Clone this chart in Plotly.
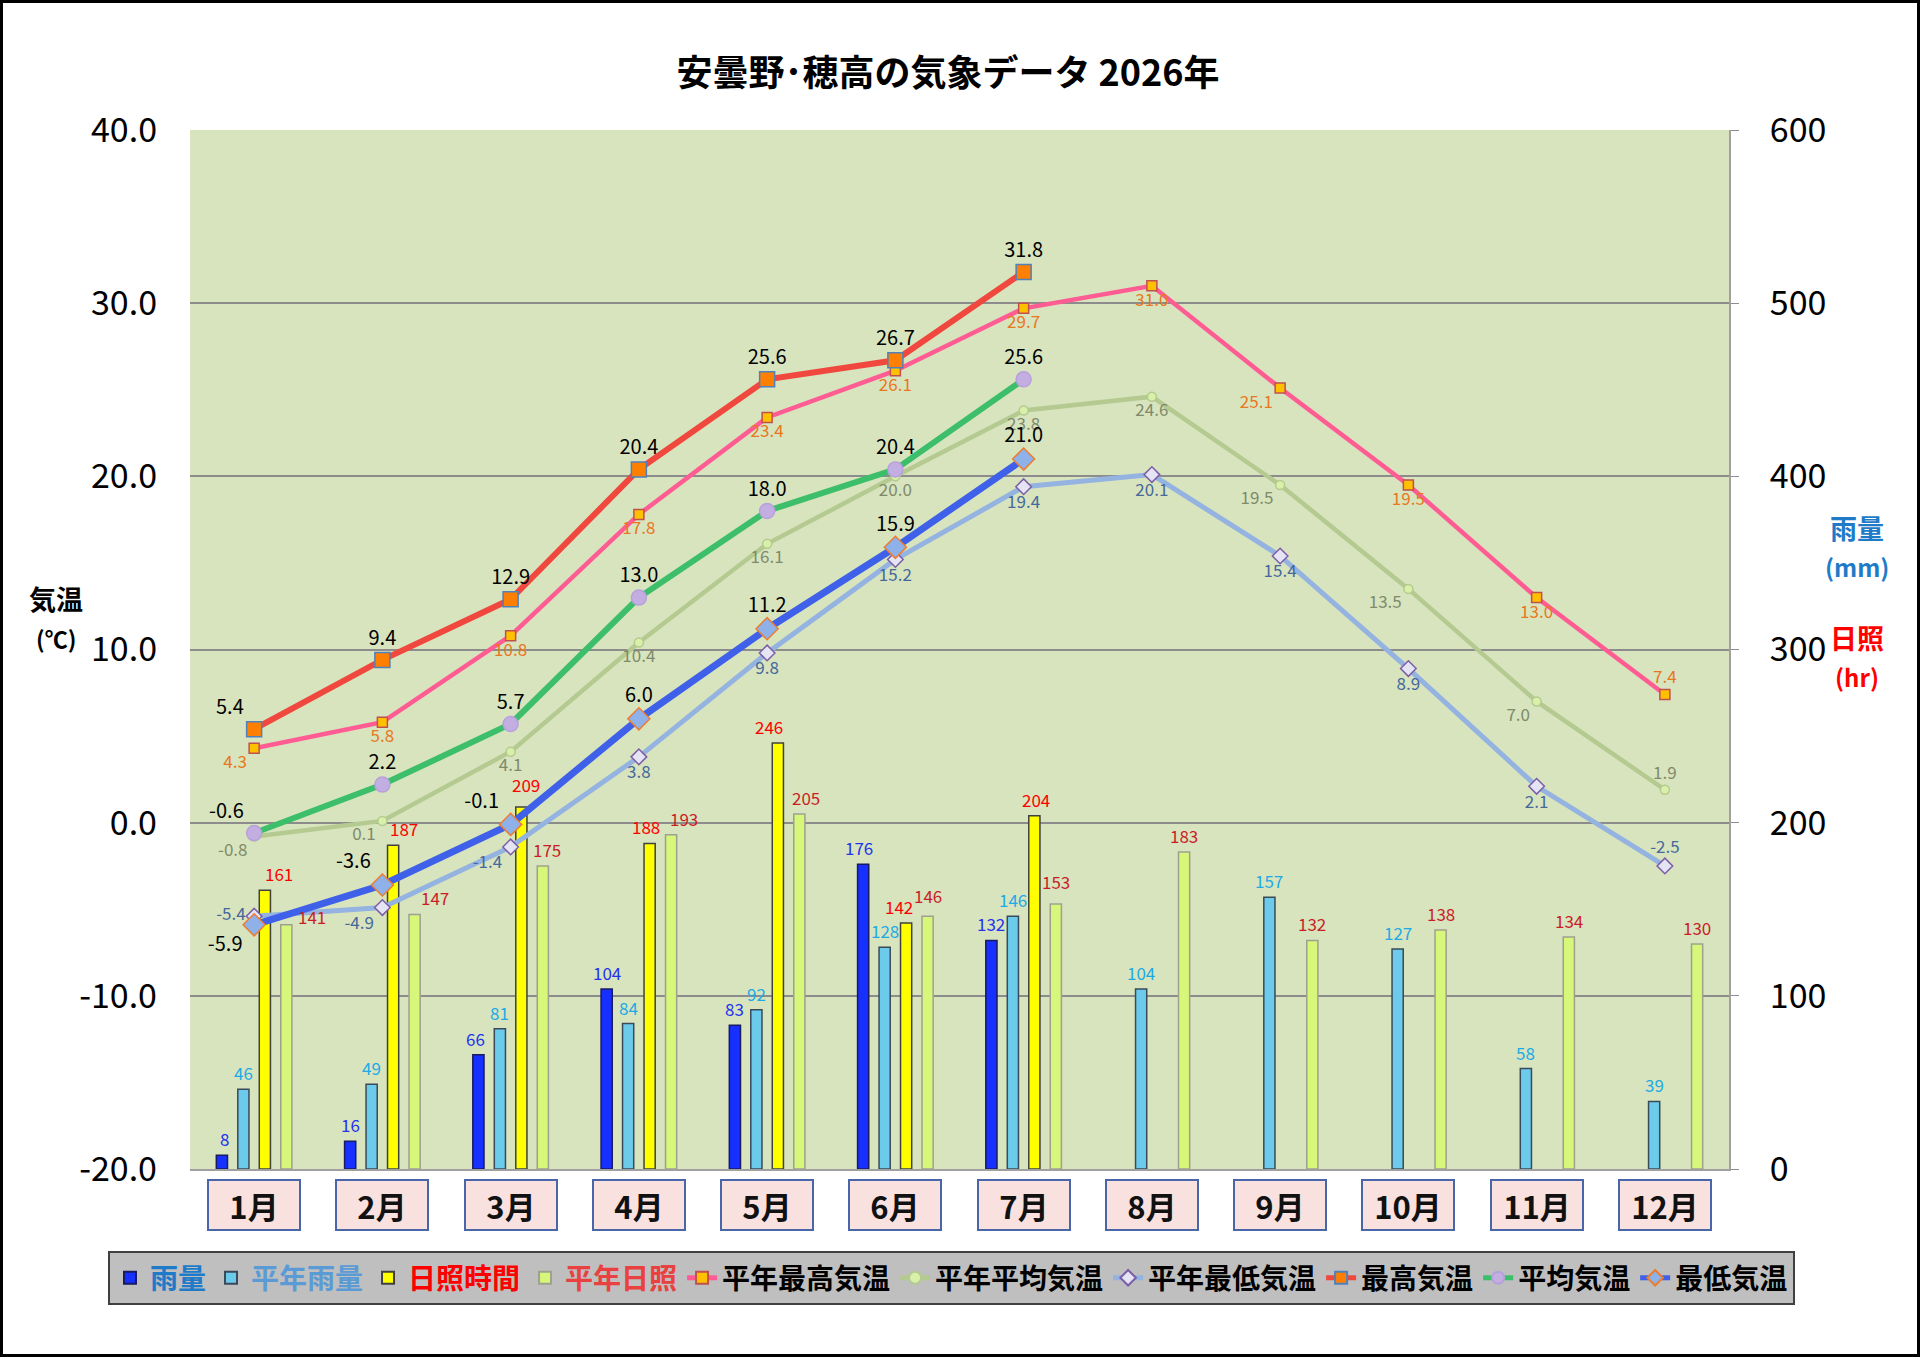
import plotly.graph_objects as go

MONTHS = [f"{m}月" for m in range(1, 13)]

RAIN = [8, 16, 66, 104, 83, 176, 132, None, None, None, None, None]
RAIN_NORMAL = [46, 49, 81, 84, 92, 128, 146, 104, 157, 127, 58, 39]
SUN = [161, 187, 209, 188, 246, 142, 204, None, None, None, None, None]
SUN_NORMAL = [141, 147, 175, 193, 205, 146, 153, 183, 132, 138, 134, 130]

TMAX_NORMAL = [4.3, 5.8, 10.8, 17.8, 23.4, 26.1, 29.7, 31.0, 25.1, 19.5, 13.0, 7.4]
TMEAN_NORMAL = [-0.8, 0.1, 4.1, 10.4, 16.1, 20.0, 23.8, 24.6, 19.5, 13.5, 7.0, 1.9]
TMIN_NORMAL = [-5.4, -4.9, -1.4, 3.8, 9.8, 15.2, 19.4, 20.1, 15.4, 8.9, 2.1, -2.5]
TMAX = [5.4, 9.4, 12.9, 20.4, 25.6, 26.7, 31.8]
TMEAN = [-0.6, 2.2, 5.7, 13.0, 18.0, 20.4, 25.6]
TMIN = [-5.9, -3.6, -0.1, 6.0, 11.2, 15.9, 21.0]

TEMP_TICKS = [-20, -10, 0, 10, 20, 30, 40]
TEMP_TICK_TEXT = ["-20.0", "-10.0", "0.0", "10.0", "20.0", "30.0", "40.0"]

FONT = "Noto Sans CJK JP"

W, H = 1920, 1357
ML, MR, MT, MB = 190, 191, 130, 188
PW, PH = W - ML - MR, H - MT - MB
BARGAP, GROUPGAP = 0.33, 0.48

# label placement per point (styling only)
POS_TMAX = ["top left"] + ["top center"] * 6
POS_TMEAN = ["top left"] + ["top center"] * 6
POS_TMIN = ["bottom left", "top left", "top left"] + ["top center"] * 4
POS_TMAX_N = ["bottom left"] + ["bottom center"] * 7 + ["bottom left"] + ["bottom center"] * 2 + ["top center"]
POS_TMEAN_N = ["bottom left", "bottom left"] + ["bottom center"] * 6 + ["bottom left"] * 3 + ["top center"]
POS_TMIN_N = ["middle left", "bottom left", "bottom left"] + ["bottom center"] * 8 + ["top center"]

# pixel nudges for bar value labels (styling only)
NUDGE_X = {
    "rain": [3, 0, -3, 0, 0, -4, 0, 0, 0, 0, 0, 0],
    "rain_n": [0] * 12,
    "sun": [14, 11, 5, -4, -9, -7, 2, 0, 0, 0, 0, 0],
    "sun_n": [26, 20, 4, 13, 7, 0, 0, 0, 0, 0, 0, 0],
}
NUDGE_Y = {
    "rain": [0] * 12,
    "rain_n": [0] * 12,
    "sun": [0, 0, 6, 0, 0, 0, 0, 0, 0, 0, 0, 0],
    "sun_n": [-8, 0, 0, 0, 0, 4, 6, 0, 0, 0, 0, 0],
}


def label(vals, fmt="{:.0f}"):
    return ["" if v is None else fmt.format(v) for v in vals]


def legend_name(text, color="#000000"):
    return f"<b><span style='color:{color}'>{text}</span></b>"


fig = go.Figure()
annotations = []

cat_w = PW / len(MONTHS)
slot = cat_w * (1 - BARGAP) / 4

bar_specs = [
    ("rain", "雨量", RAIN, "#1530FF", "#1A1A60", "#2233EE", "#1F7BC8"),
    ("rain_n", "平年雨量", RAIN_NORMAL, "#6CCBEB", "#3A4A5A", "#1EAAE6", "#5B9BD5"),
    ("sun", "日照時間", SUN, "#FFFF00", "#404040", "#FF0000", "#FF0000"),
    ("sun_n", "平年日照", SUN_NORMAL, "#D6F77A", "#A0A090", "#C81E28", "#E8413F"),
]
for i, (key, name, vals, fill, edge, tcolor, lcolor) in enumerate(bar_specs):
    fig.add_trace(go.Bar(
        x=MONTHS, y=vals, name=legend_name(name, lcolor),
        marker=dict(color=fill, line=dict(color=edge, width=1.5)),
        yaxis="y",
    ))
    offset = (i - 1.5) * slot
    for j, (m, v) in enumerate(zip(MONTHS, vals)):
        if v is None:
            continue
        annotations.append(dict(
            x=m, y=v, xref="x", yref="y", text=str(v), showarrow=False,
            xanchor="center", yanchor="bottom",
            xshift=offset + NUDGE_X[key][j], yshift=2 + NUDGE_Y[key][j],
            font=dict(family=FONT, size=17, color=tcolor),
        ))

line_specs = [
    ("平年最高気温", TMAX_NORMAL, "#FF5C93", 4.5, "square", 10, "#FFC000", "#C0504D", "#E87722", 17, POS_TMAX_N),
    ("平年平均気温", TMEAN_NORMAL, "#B4CA90", 4.5, "circle", 9, "#D8F0A8", "#B4CA90", "#7F8A6C", 17, POS_TMEAN_N),
    ("平年最低気温", TMIN_NORMAL, "#94B3E0", 5, "diamond", 12, "#E4E4F4", "#7B5EA7", "#46689C", 17, POS_TMIN_N),
    ("最高気温", TMAX, "#F0483E", 6, "square", 15, "#FF7F00", "#4F81BD", "#000000", 20, POS_TMAX),
    ("平均気温", TMEAN, "#3DBE6B", 6, "circle", 15, "#C3AEE2", "#B8A0DC", "#000000", 20, POS_TMEAN),
    ("最低気温", TMIN, "#3F60E8", 7, "diamond", 17, "#8DB1E8", "#ED7D31", "#000000", 20, POS_TMIN),
]
for name, vals, lc, lw, sym, size, mfill, medge, tcolor, tsize, pos in line_specs:
    fig.add_trace(go.Scatter(
        x=MONTHS[:len(vals)], y=vals, name=legend_name(name),
        mode="lines+markers+text",
        line=dict(color=lc, width=lw),
        marker=dict(symbol=sym, size=size, color=mfill, line=dict(color=medge, width=1.5)),
        text=label(vals, "{:.1f}"), textposition=pos,
        textfont=dict(family=FONT, size=tsize, color=tcolor),
        cliponaxis=False, yaxis="y2",
    ))

for m in MONTHS:
    annotations.append(dict(
        x=m, xref="x", y=-0.0346, yref="paper", yanchor="middle", xanchor="center",
        text=f"<b>{m}</b>", showarrow=False, font=dict(family=FONT, size=31, color="#111111"),
        bgcolor="#F9E1DF", bordercolor="#4A66A8", borderwidth=2,
        width=88, height=46,
    ))


def side_title(text, px, py, size, color):
    return dict(x=(px - ML) / PW, y=(H - MB - py) / PH, xref="paper", yref="paper",
                xanchor="center", yanchor="middle", text=f"<b>{text}</b>", showarrow=False,
                font=dict(family=FONT, size=size, color=color))


annotations += [
    side_title("気温", 56, 598, 27, "#000000"),
    side_title("(℃)", 56, 638, 23, "#000000"),
    side_title("雨量", 1857, 527, 27, "#1F7BC8"),
    side_title("(mm)", 1857, 566, 24, "#1F7BC8"),
    side_title("日照", 1857, 637, 27, "#FF0000"),
    side_title("(hr)", 1857, 676, 24, "#FF0000"),
]

fig.update_layout(
    width=W, height=H,
    margin=dict(l=ML, r=MR, t=MT, b=MB),
    paper_bgcolor="white",
    plot_bgcolor="#D8E4BD",
    font=dict(family=FONT, color="#000000"),
    title=dict(text="<b>安曇野･穂高の気象データ 2026年</b>", x=948 / W, xanchor="center",
               xref="container", y=1 - 73 / H, yanchor="middle", yref="container",
               font=dict(family=FONT, size=36, color="#000000")),
    barmode="group", bargap=BARGAP, bargroupgap=GROUPGAP,
    xaxis=dict(type="category", categoryorder="array", categoryarray=MONTHS,
               range=[-0.5, len(MONTHS) - 0.5],
               showticklabels=False, showgrid=False, zeroline=False,
               showline=True, linecolor="#A0A0A0", linewidth=2, ticks=""),
    yaxis=dict(range=[0, 600], dtick=100, side="right", tickformat="d",
               showgrid=True, gridcolor="#8C8C8C", gridwidth=1.5, zeroline=False,
               showline=True, linecolor="#A0A0A0", linewidth=2, mirror=False,
               ticks="outside", ticklen=8, tickcolor="#8C8C8C",
               tickfont=dict(family=FONT, size=34, color="#000000"), ticklabelstandoff=24),
    yaxis2=dict(range=[-20, 40], tickmode="array", tickvals=TEMP_TICKS, ticktext=TEMP_TICK_TEXT,
                side="left", overlaying="y",
                showgrid=False, zeroline=False, showline=False, ticks="",
                tickfont=dict(family=FONT, size=34, color="#000000"), ticklabelstandoff=32),
    legend=dict(orientation="h", x=(108 - ML) / PW, xanchor="left", y=-0.079, yanchor="top",
                bgcolor="#BFBFBF", bordercolor="#404040", borderwidth=2,
                font=dict(family=FONT, size=28, color="#000000"),
                itemsizing="constant", traceorder="normal"),
    annotations=annotations,
    shapes=[dict(type="rect", xref="paper", yref="paper",
                 x0=-(ML - 1.5) / PW, x1=(W - ML - 1.5) / PW,
                 y0=-(MB - 1.5) / PH, y1=(H - MB - 1.5) / PH,
                 line=dict(color="#000000", width=3), layer="above")],
)

fig.write_html("out.html", config={"displayModeBar": False},
               post_script="document.body.style.margin='0';")
